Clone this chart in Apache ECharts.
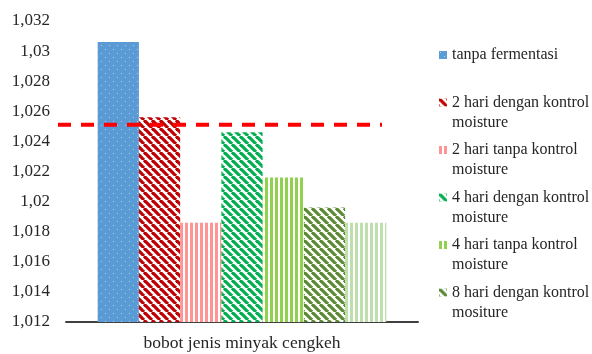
<!DOCTYPE html>
<html>
<head>
<meta charset="utf-8">
<script src="https://cdn.jsdelivr.net/npm/echarts@6/dist/echarts.min.js"></script>
<style>
html,body{margin:0;padding:0;background:#fff;}
#chart{width:592px;height:354px;}
</style>
</head>
<body>
<div id="chart"></div>
<script>
// ---- data ----
const categories = ['bobot jenis minyak cengkeh'];
const seriesNames = [
  'tanpa fermentasi',
  '2 hari dengan kontrol moisture',
  '2 hari tanpa kontrol moisture',
  '4 hari dengan kontrol moisture',
  '4 hari tanpa kontrol moisture',
  '8 hari dengan kontrol mositure',
  '8 hari tanpa kontrol moisture'
];
const legendLabels = [
  ' \ntanpa fermentasi\n ',
  ' \n2 hari dengan kontrol\nmoisture',
  ' \n2 hari tanpa kontrol\nmoisture',
  ' \n4 hari dengan kontrol\nmoisture',
  ' \n4 hari tanpa kontrol\nmoisture',
  ' \n8 hari dengan kontrol\nmositure'
];
const values = [1.0306, 1.0256, 1.0186, 1.0246, 1.0216, 1.0196, 1.0186];
const referenceValue = 1.0251;
const yMin = 1.012, yMax = 1.032, yStep = 0.002;

// ---- patterns ----
function dotted(bg, dot) {
  const c = document.createElement('canvas'); c.width = 8; c.height = 8;
  const g = c.getContext('2d');
  g.fillStyle = bg; g.fillRect(0, 0, 8, 8);
  g.fillStyle = dot; g.fillRect(1, 1, 1, 1); g.fillRect(5, 5, 1, 1);
  return {image: c, repeat: 'repeat'};
}
function diag(fg) {
  const c = document.createElement('canvas'); c.width = 8; c.height = 8;
  const g = c.getContext('2d');
  g.fillStyle = '#fff'; g.fillRect(0, 0, 8, 8);
  g.strokeStyle = fg; g.lineWidth = 3.2;
  for (const k of [-8, 0, 8]) { g.beginPath(); g.moveTo(k, 0); g.lineTo(k + 8, 8); g.stroke(); }
  return {image: c, repeat: 'repeat'};
}
function vert(fg) {
  const c = document.createElement('canvas'); c.width = 5; c.height = 5;
  const g = c.getContext('2d');
  g.fillStyle = '#fff'; g.fillRect(0, 0, 5, 5);
  g.fillStyle = fg; g.fillRect(0, 0, 3, 5);
  return {image: c, repeat: 'repeat'};
}
const fills = [
  dotted('#5B9BD5', 'rgba(255,255,255,0.5)'),
  diag('#C00000'),
  vert('#FF9494'),
  diag('#00B050'),
  vert('#92D050'),
  diag('#5A8A32'),
  vert('#C0DFAE')
];

const font = 'Liberation Serif';
const chart = echarts.init(document.getElementById('chart'), null, {renderer: 'canvas'});

const series = seriesNames.map((n, i) => ({
  name: n, type: 'bar', xAxisIndex: 0, yAxisIndex: 0,
  data: [values[i]],
  barGap: '0%', barCategoryGap: '18%',
  itemStyle: {color: fills[i]},
  z: 2
}));
series.push({
  name: 'ref', type: 'line', xAxisIndex: 1, yAxisIndex: 1,
  data: [referenceValue, referenceValue],
  symbol: 'none', silent: true,
  lineStyle: {color: '#FF0000', width: 4, type: [13, 10]},
  z: 5
});

chart.setOption({
  animation: false,
  backgroundColor: '#fff',
  grid: [
    {left: 66, right: 174, top: 21, bottom: 32},
    {left: 58, right: 210, top: 21, bottom: 32}
  ],
  xAxis: [
    {type: 'category', gridIndex: 0, data: categories,
     axisLine: {lineStyle: {color: '#404040', width: 2}},
     axisTick: {show: false},
     axisLabel: {color: '#262626', fontFamily: font, fontSize: 17.5, margin: 12}},
    {type: 'category', gridIndex: 1, data: ['', ''], boundaryGap: false, show: false}
  ],
  yAxis: [
    {type: 'value', gridIndex: 0, min: yMin, max: yMax, interval: yStep,
     axisLine: {show: false}, axisTick: {show: false}, splitLine: {show: false},
     axisLabel: {color: '#262626', fontFamily: font, fontSize: 17, margin: 16,
       formatter: v => parseFloat(v.toFixed(3)).toString().replace('.', ',')}},
    {type: 'value', gridIndex: 1, min: yMin, max: yMax, show: false}
  ],
  legend: {
    orient: 'vertical', left: 439, top: 25, padding: 0,
    data: seriesNames.slice(0, 6),
    icon: 'rect', itemWidth: 8, itemHeight: 8, itemGap: -12.5,
    selectedMode: false,
    formatter: name => legendLabels[seriesNames.indexOf(name)],
    textStyle: {color: '#262626', fontFamily: font, fontSize: 16, lineHeight: 20}
  },
  series: series
});
</script>
</body>
</html>
